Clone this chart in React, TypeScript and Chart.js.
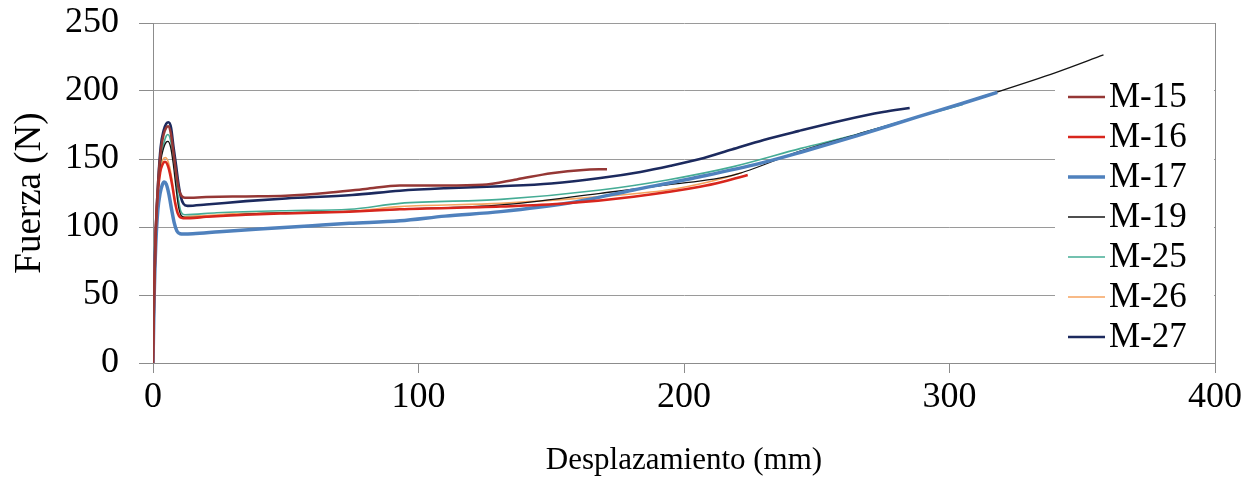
import React, { useEffect, useRef } from "react";
import { Chart, registerables } from "chart.js";

Chart.register(...registerables);

const FONT = "'Liberation Serif', 'Times New Roman', serif";

const seriesNames = ["M-15", "M-16", "M-17", "M-19", "M-25", "M-26", "M-27"];
const seriesColors = ["#953735", "#D8261D", "#4F81BD", "#141414", "#45AC95", "#F6A35F", "#1C2A5E"];
const seriesWidths = [2.5, 2.5, 3.5, 1.3, 1.6, 1.6, 2.6];

const xTicks = [0, 100, 200, 300, 400];
const yTicks = [0, 50, 100, 150, 200, 250];

const m15X = [0, 0.5, 1.1, 2, 3, 4, 5, 5.7, 6.7, 7.7, 8.7, 9.7, 10.7, 12, 20, 35, 50, 65, 80, 93, 110, 124, 137, 150, 162, 171];
const m15Y = [0, 58, 100, 135, 157, 168, 173, 174, 169, 155, 140, 128, 123, 121.5, 122, 122.5, 123, 125, 128, 130.5, 130.5, 131, 135, 139.5, 142, 142.5];

const m16X = [0, 0.4, 1, 1.8, 2.7, 3.6, 4.5, 5.3, 6.3, 7.3, 8.3, 9.3, 10.3, 11.5, 14, 20, 35, 50, 74, 93, 131, 156, 181, 206, 215, 224];
const m16Y = [0, 50, 95, 125, 140, 146, 148, 146.5, 140, 130, 118, 110, 107, 106.5, 106.4, 107.5, 109, 110, 111.3, 113, 115, 117.4, 122.3, 129.6, 133.5, 138.2];

const m17X = [0, 0.4, 1, 1.8, 2.7, 3.5, 4.2, 5, 6, 7, 8, 9, 10.2, 11.5, 15, 25, 40, 60, 74, 93, 110, 131, 156, 181, 206, 229, 244, 265, 288, 305, 318];
const m17Y = [0, 45, 85, 112, 125, 131, 133, 131.5, 124, 113, 103, 97, 95, 94.8, 95, 96.5, 98.5, 101, 102.7, 104.6, 108, 111.3, 117.4, 127.2, 137, 147, 155, 167, 181, 191, 199];

const m19X = [0, 0.5, 1.1, 2, 2.9, 4, 5, 5.6, 6.6, 7.6, 8.6, 9.6, 10.6, 12, 20, 35, 50, 74, 93, 131, 168.5, 193.7, 218.6, 244, 265, 288, 318, 340, 358];
const m19Y = [0, 58, 98, 128, 148, 158, 162.5, 163, 159, 147, 130, 115, 108.5, 107, 107.5, 109.5, 110.5, 111.5, 113, 116.2, 124.8, 130.9, 138.2, 156, 168, 181, 199.3, 213.5, 226.5];

const m25X = [0, 0.5, 1.1, 2, 2.9, 4, 5, 5.6, 6.6, 7.6, 8.6, 9.6, 10.6, 12, 24, 50, 74, 93, 131, 168.5, 193.7, 218.6, 244, 265, 288, 305];
const m25Y = [0, 58, 99, 130, 150, 161, 167, 168, 164, 152, 136, 120, 111, 109, 110.5, 112, 113, 117.4, 120.3, 127.2, 134.6, 144.4, 157.8, 168, 181, 190];

const m26X = [0, 0.4, 1, 1.8, 2.7, 3.6, 4.6, 5.3, 6.3, 7.3, 8.3, 9.3, 10.3, 11.5, 14, 20, 35, 50, 74, 93, 131, 168.5, 193.7, 210, 222];
const m26Y = [0, 52, 96, 127, 142, 149, 151, 150, 144, 133, 120, 111, 108, 107.5, 107.8, 108.5, 110, 110.5, 111.5, 115, 117.4, 122.3, 127.2, 133.5, 140];

const m27X = [0, 0.5, 1.1, 2, 2.9, 4, 5, 5.8, 6.8, 7.7, 8.7, 9.5, 10.5, 11.5, 13, 20, 35, 50, 75, 93, 110, 131, 150, 168.5, 183.6, 195, 206, 218, 230, 243, 260, 275, 285];
const m27Y = [0, 60, 100, 135, 159, 171, 176, 177, 173, 159, 145, 133, 122, 117, 115.5, 116.5, 119, 121, 123.5, 126.7, 128.5, 130, 132, 136, 140.5, 145, 150, 157, 164, 170.5, 178.5, 184.5, 187.5];

const seriesX = [m15X, m16X, m17X, m19X, m25X, m26X, m27X];
const seriesY = [m15Y, m16Y, m17Y, m19Y, m25Y, m26Y, m27Y];

const legendPlugin = {
  id: "boxLegend",
  beforeDatasetsDraw(chart: any) {
    const { ctx, chartArea } = chart;
    ctx.save();
    ctx.fillStyle = "#ffffff";
    ctx.fillRect(chartArea.right - 160, chartArea.top + 55, 159, chartArea.bottom - chartArea.top - 60);
    ctx.restore();
  },
  afterDatasetsDraw(chart: any) {
    const { ctx, chartArea } = chart;
    ctx.save();
    ctx.font = `35px ${FONT}`;
    ctx.textBaseline = "middle";
    ctx.textAlign = "left";
    chart.data.datasets.forEach((ds: any, i: number) => {
      const y = chartArea.top + 74 + i * 40;
      ctx.strokeStyle = ds.borderColor;
      ctx.lineWidth = ds.borderWidth;
      ctx.beginPath();
      ctx.moveTo(chartArea.right - 147, y);
      ctx.lineTo(chartArea.right - 110, y);
      ctx.stroke();
      ctx.fillStyle = "#000";
      ctx.fillText(ds.label, chartArea.right - 106, y + 1);
    });
    ctx.restore();
  },
};

export default function App() {
  const canvasRef = useRef<HTMLCanvasElement | null>(null);

  useEffect(() => {
    if (!canvasRef.current) return;
    const datasets = seriesNames.map((name, i) => ({
      label: name,
      data: seriesX[i].map((x, j) => ({ x, y: seriesY[i][j] })),
      borderColor: seriesColors[i],
      backgroundColor: seriesColors[i],
      borderWidth: seriesWidths[i],
      pointRadius: 0,
      fill: false,
      tension: 0.4,
      cubicInterpolationMode: "monotone" as const,
    }));

    const chart = new Chart(canvasRef.current, {
      type: "line",
      data: { datasets },
      plugins: [legendPlugin],
      options: {
        responsive: false,
        animation: false,
        events: [],
        layout: { padding: { left: 0, top: 23, right: 40, bottom: 0 } },
        plugins: { legend: { display: false }, tooltip: { enabled: false } },
        scales: {
          x: {
            type: "linear",
            min: xTicks[0],
            max: xTicks[xTicks.length - 1],
            afterBuildTicks: (s: any) => {
              s.ticks = xTicks.map((v) => ({ value: v }));
            },
            ticks: { font: { family: FONT, size: 36 }, color: "#000", padding: 3, maxRotation: 0 },
            grid: {
              drawOnChartArea: true,
              color: (c: any) => (c.tick && c.tick.value === 400 ? "#8c8c8c" : "rgba(0,0,0,0)"),
              tickColor: "#8c8c8c",
              tickLength: 10,
              lineWidth: 1,
            },
            border: { color: "#8c8c8c", width: 1 },
            title: {
              display: true,
              text: "Desplazamiento (mm)",
              font: { family: FONT, size: 31 },
              color: "#000",
              padding: { top: 0, bottom: 16 },
            },
            afterFit: (s: any) => {
              s.height = 132;
              s.paddingLeft = 0;
              s.paddingRight = 0;
            },
          },
          y: {
            type: "linear",
            min: yTicks[0],
            max: yTicks[yTicks.length - 1],
            afterBuildTicks: (s: any) => {
              s.ticks = yTicks.map((v) => ({ value: v }));
            },
            ticks: { font: { family: FONT, size: 36 }, color: "#000", padding: 20 },
            grid: { color: "#9a9a9a", tickColor: "#8c8c8c", tickLength: 14, lineWidth: 1 },
            border: { color: "#8c8c8c", width: 1 },
            title: {
              display: true,
              text: "Fuerza (N)",
              font: { family: FONT, size: 37 },
              color: "#000",
              padding: { top: 8, bottom: 0 },
            },
            afterFit: (s: any) => {
              s.width = 153;
              s.paddingTop = 0;
              s.paddingBottom = 0;
            },
          },
        },
      },
    });
    return () => chart.destroy();
  }, []);

  return (
    <div style={{ position: "absolute", left: 0, top: 0, width: 1255, height: 495, background: "#fff" }}>
      <canvas ref={canvasRef} width={1255} height={495} style={{ display: "block" }} />
    </div>
  );
}
